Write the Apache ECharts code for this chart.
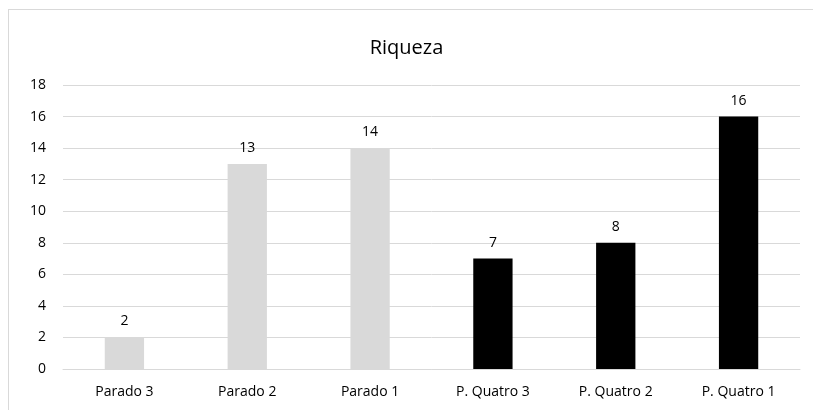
<!DOCTYPE html>
<html>
<head>
<meta charset="utf-8">
<script src="https://cdn.jsdelivr.net/npm/echarts@6/dist/echarts.min.js"></script>
<style>
  html, body { margin: 0; padding: 0; background: #fff; }
  #frame {
    position: absolute; left: 8px; top: 9px; width: 820px; height: 420px;
    border: 1px solid #d9d9d9; box-sizing: border-box;
  }
  #chart { position: absolute; left: 0; top: 0; width: 813px; height: 410px; }
</style>
</head>
<body>
<div id="frame"></div>
<div id="chart"></div>
<script>
const categories = ["Parado 3", "Parado 2", "Parado 1", "P. Quatro 3", "P. Quatro 2", "P. Quatro 1"];
const values = [2, 13, 14, 7, 8, 16];
const barColors = ["#d9d9d9", "#d9d9d9", "#d9d9d9", "#000000", "#000000", "#000000"];

const chart = echarts.init(document.getElementById("chart"));
const font = "'Open Sans', 'Noto Sans', sans-serif";

const option = {
  animation: false,
  title: {
    text: "Riqueza",
    left: "center",
    top: 33,
    textStyle: { fontFamily: font, fontSize: 20, fontWeight: "normal", color: "#000" }
  },
  grid: { left: 63, right: 13, top: 85, bottom: 41 },
  xAxis: {
    type: "category",
    data: categories,
    axisLine: { lineStyle: { color: "#d9d9d9" } },
    axisTick: { show: false },
    axisLabel: { fontFamily: font, fontSize: 14, color: "#000", margin: 16 }
  },
  yAxis: {
    type: "value",
    min: 0,
    max: 18,
    interval: 2,
    axisLine: { show: false },
    axisTick: { show: false },
    splitLine: { lineStyle: { color: "#d9d9d9" } },
    axisLabel: { fontFamily: font, fontSize: 14, color: "#000", margin: 17 }
  },
  series: [{
    type: "bar",
    data: values.map((v, i) => ({ value: v, itemStyle: { color: barColors[i] } })),
    barWidth: "32%",
    label: {
      show: true,
      position: "top",
      distance: 9,
      fontFamily: font,
      fontSize: 14,
      color: "#000"
    }
  }]
};

chart.setOption(option);
</script>
</body>
</html>
